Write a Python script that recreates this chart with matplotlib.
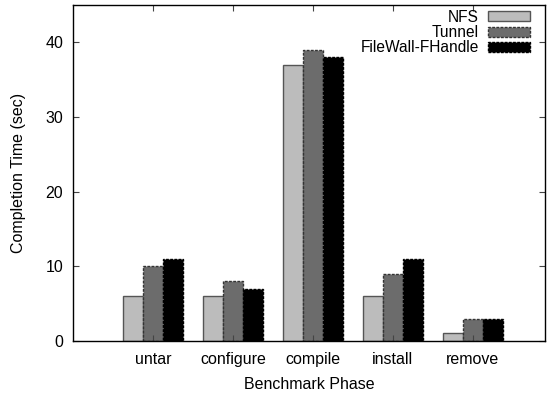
import numpy as np
import matplotlib.pyplot as plt

plt.rcParams['font.family'] = ['Liberation Sans', 'DejaVu Sans']

phases = ['untar', 'configure', 'compile', 'install', 'remove']
nfs = [6, 6, 37, 6, 1]
tunnel = [10, 8, 39, 9, 3]
filewall = [11, 7, 38, 11, 3]

fig = plt.figure(figsize=(5.47, 3.95), dpi=100)
ax = fig.add_axes([0.1335, 0.137, 0.8625, 0.85])

x = np.arange(1, len(phases) + 1)
w = 0.25
ax.bar(x - w, nfs, w, color='#bcbcbc', edgecolor='#555555', linewidth=1, label='NFS')
ax.bar(x, tunnel, w, color='#6c6c6c', edgecolor='#333333', linewidth=1, linestyle=(0, (2, 1)), label='Tunnel')
ax.bar(x + w, filewall, w, color='black', edgecolor='black', linewidth=1, linestyle=(0, (2, 1)), label='FileWall-FHandle')

ax.set_xlim(0, 5.9)
ax.set_ylim(0, 45)
ax.set_xticks(x)
ax.set_xticklabels(phases)
ax.set_yticks([0, 10, 20, 30, 40])
ax.tick_params(direction='in', top=True, right=True, labelsize=11.5, length=4, width=0.8, colors='#444444', labelcolor='black')
ax.tick_params(axis='x', pad=8)
ax.tick_params(axis='y', pad=7)
ax.set_xlabel('Benchmark Phase', fontsize=11.5, labelpad=7)
ax.set_ylabel('Completion Time (sec)', fontsize=11.5, labelpad=14)
for s in ax.spines.values():
    s.set_linewidth(1)

ax.legend(loc='upper right', bbox_to_anchor=(0.979, 1.0), markerfirst=False, frameon=False,
          fontsize=11.2, handlelength=2.7, handleheight=0.6, labelspacing=0.02,
          borderaxespad=0.0, handletextpad=0.6, borderpad=0.3)

plt.savefig('out.png', dpi=100)
